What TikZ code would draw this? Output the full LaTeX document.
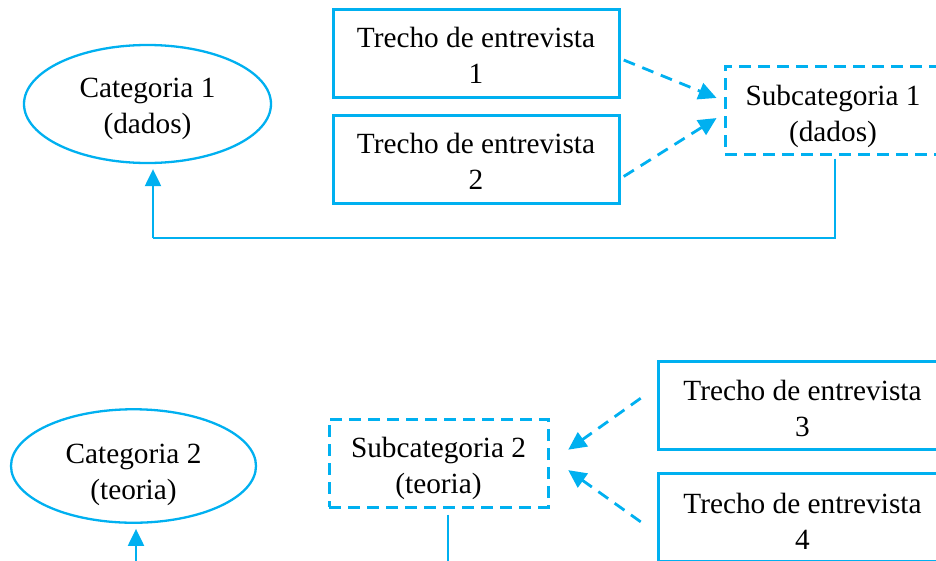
\documentclass[tikz,border=0pt]{standalone}
\usepackage{fontspec}
\setmainfont{Liberation Serif}
\usetikzlibrary{shapes.geometric,arrows.meta}
\definecolor{cy}{RGB}{0,176,240}
\newcommand\lft[1]{\rule{0pt}{#1}}
\begin{document}
\begin{tikzpicture}[x=1pt,y=-1pt,
  font=\fontsize{29.3}{36}\selectfont,
  solidbox/.style={draw=cy,line width=3pt,rectangle,inner sep=0pt,align=center,minimum width=286pt,minimum height=88.5pt},
  dashbox/.style={draw=cy,line width=3pt,dash pattern=on 12pt off 7pt,rectangle,inner sep=0pt,align=center,minimum height=88pt},
  cat/.style={draw=cy,line width=2.3pt,ellipse,inner sep=0pt,align=center},
  conn/.style={draw=cy,line width=1.8pt},
  darr/.style={draw=cy,line width=2.8pt,dash pattern=on 12pt off 8pt,-{Triangle[length=18pt,width=17pt]}},
  sarr/.style={draw=cy,line width=2.2pt,-{Triangle[length=17pt,width=16pt]}}]
\useasboundingbox (0,0) rectangle (936,560);
\clip (0,0) rectangle (936,560);

% top group
\node[cat,minimum width=247pt,minimum height=118pt] (cat1) at (147.5,104) {\lft{30pt}Categoria 1\\(dados)};
\node[solidbox] (t1) at (476,53.5) {\lft{24pt}Trecho de entrevista\\1};
\node[solidbox] (t2) at (476,159.5) {\lft{24pt}Trecho de entrevista\\2};
\node[dashbox,minimum width=216pt] (sub1) at (833,110) {\lft{33pt}Subcategoria 1\\(dados)};

\draw[darr,shorten <=3.5pt,shorten >=7.5pt] ([yshift=-5.2pt]t1.east) -- ([yshift=9.2pt]sub1.west);
\draw[darr,shorten <=3.8pt,shorten >=8.2pt] ([yshift=-19pt]t2.east) -- ([yshift=-3.7pt]sub1.west);

\coordinate (k4) at (835,238);
\coordinate (k1) at (153,238);
\draw[conn,shorten <=3pt] (k4 |- sub1.south) -- (k4) -- (k1);
\draw[sarr,shorten >=5pt] (k1) -- (k1 |- cat1.south);

% bottom group
\node[cat,minimum width=245pt,minimum height=110pt] (cat2) at (133.5,466) {\lft{38pt}Categoria 2\\(teoria)};
\node[dashbox,minimum width=219pt] (sub2) at (438.5,463) {\lft{31pt}Subcategoria 2\\(teoria)};
\node[solidbox,minimum width=289pt] (t3) at (802.5,405.5) {\lft{27pt}Trecho de entrevista\\3};
\node[solidbox,minimum width=289pt] (t4) at (802.5,517.5) {\lft{27pt}Trecho de entrevista\\4};

\draw[darr,shorten <=19.4pt,shorten >=23pt] ([yshift=18.5pt]t3.west) -- (sub2.east);
\draw[darr,shorten <=19.4pt,shorten >=23pt] ([yshift=-15.6pt]t4.west) -- ([yshift=6.2pt]sub2.east);

\coordinate (k2) at (136,590);
\draw[sarr,shorten >=5pt] (k2) -- (k2 |- cat2.south);
\coordinate (k3) at (448,590);
\draw[conn,shorten <=6pt] (k3 |- sub2.south) -- (k3);
\end{tikzpicture}
\end{document}
